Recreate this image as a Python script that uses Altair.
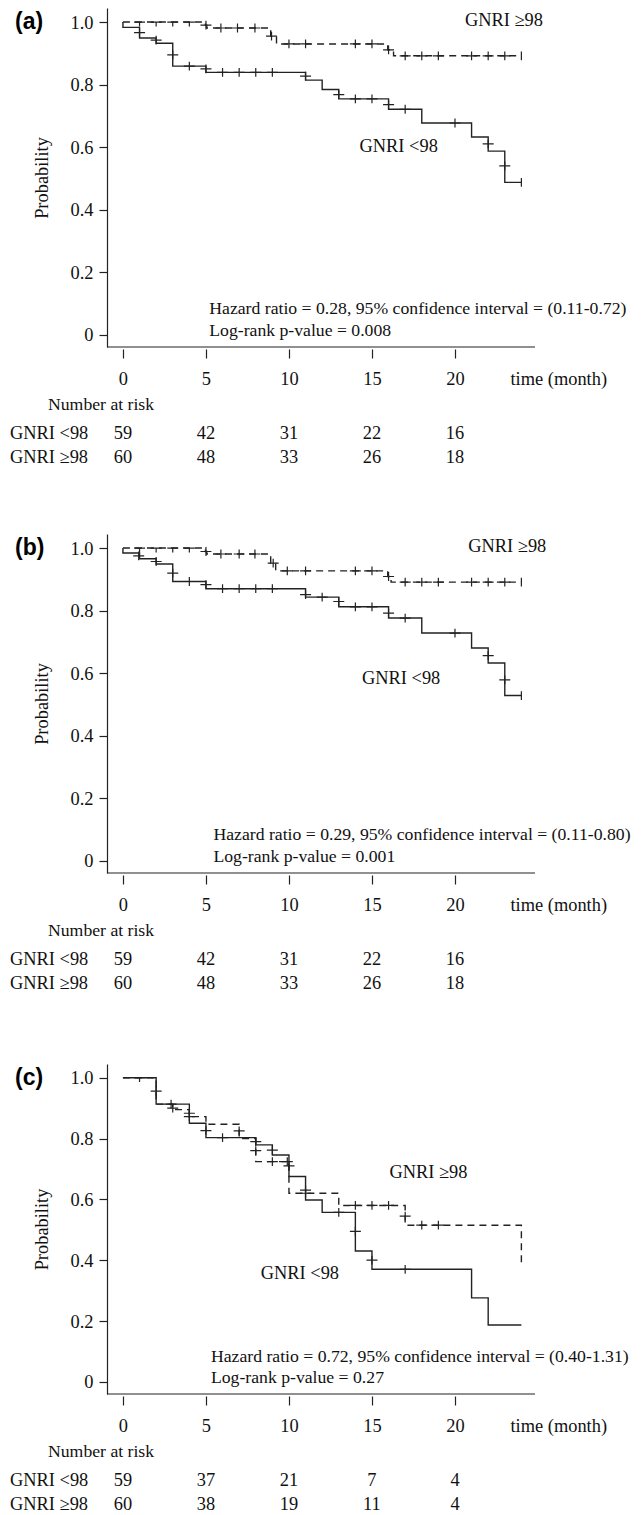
import altair as alt
import pandas as pd

SERIF = "Liberation Serif"
SANS = "Liberation Sans"
INK = "#111111"
LINE = "#222222"

W = 428
X_DOMAIN = [-0.96, 24.82]
Y_DOMAIN = [-0.04, 1.045]
X_TICKS = [0, 5, 10, 15, 20]
Y_TICKS = [0, 0.2, 0.4, 0.6, 0.8, 1.0]
GROUP_LOW = "GNRI <98"
GROUP_HIGH = "GNRI \u226598"

# ---------------- panel (a) ----------------
A_LOW_T = [0, 0, 1, 2, 3, 5, 11, 12, 13, 16, 18, 21, 22, 23, 24]
A_LOW_S = [1.0, 0.983, 0.949, 0.932, 0.859, 0.839, 0.814, 0.784, 0.754, 0.721, 0.677, 0.632, 0.587, 0.487, 0.487]
A_LOW_CT = [1, 2, 3, 4, 5, 6, 7, 8, 9, 11, 13, 14, 15, 16, 17, 20, 22, 23]
A_LOW_CS = [0.966, 0.942, 0.895, 0.859, 0.85, 0.839, 0.839, 0.839, 0.839, 0.827, 0.768, 0.754, 0.754, 0.736, 0.721, 0.677, 0.61, 0.54]
A_HIGH_T = [0, 4.97, 5.05, 8.9, 9.25, 15.95, 16.3, 24]
A_HIGH_S = [1.0, 0.99, 0.981, 0.955, 0.93, 0.911, 0.892, 0.892]
A_HIGH_CT = [1, 2, 3, 4, 5, 5.9, 6.9, 7.95, 8.95, 10, 11, 14, 15, 16, 17, 18, 19, 21, 22, 23]
A_HIGH_CS = [1.0, 1.0, 1.0, 1.0, 0.99, 0.981, 0.981, 0.981, 0.955, 0.93, 0.93, 0.93, 0.93, 0.911,
             0.892, 0.892, 0.892, 0.892, 0.892, 0.892]
A_RISK_LOW = [59, 42, 31, 22, 16]
A_RISK_HIGH = [60, 48, 33, 26, 18]
A_HR = "Hazard ratio = 0.28, 95% confidence interval = (0.11-0.72)"
A_P = "Log-rank p-value = 0.008"

# ---------------- panel (b) ----------------
B_LOW_T = [0, 0, 1, 2, 3, 5, 11, 13, 16, 18, 21, 22, 23, 24]
B_LOW_S = [1.0, 0.984, 0.966, 0.949, 0.893, 0.87, 0.843, 0.812, 0.776, 0.728, 0.68, 0.632, 0.528, 0.528]
B_LOW_CT = [0.95, 2, 3, 4, 5, 6, 7, 8, 9, 11, 12, 13, 14, 15, 16, 17, 20, 22, 23]
B_LOW_CS = [0.975, 0.957, 0.92, 0.893, 0.883, 0.87, 0.87, 0.87, 0.87, 0.851, 0.843, 0.829, 0.812, 0.812,
            0.792, 0.776, 0.728, 0.656, 0.578]
B_HIGH_T = [0, 4.97, 5.05, 8.9, 9.2, 15.95, 16.15, 24]
B_HIGH_S = [1.0, 0.989, 0.981, 0.952, 0.927, 0.909, 0.891, 0.891]
B_HIGH_CT = [1, 2, 3, 4, 5, 5.9, 7, 7.95, 9.05, 9.9, 11, 14, 15, 16, 17, 18, 19, 21, 22, 23]
B_HIGH_CS = [1.0, 1.0, 1.0, 1.0, 0.989, 0.981, 0.981, 0.981, 0.952, 0.927, 0.927, 0.927, 0.927, 0.909,
             0.891, 0.891, 0.891, 0.891, 0.891, 0.891]
B_RISK_LOW = [59, 42, 31, 22, 16]
B_RISK_HIGH = [60, 48, 33, 26, 18]
B_HR = "Hazard ratio = 0.29, 95% confidence interval = (0.11-0.80)"
B_P = "Log-rank p-value = 0.001"

# ---------------- panel (c) ----------------
C_LOW_T = [0, 2, 4, 5, 8, 9, 10, 11, 12, 14, 15, 21, 22, 24]
C_LOW_S = [1.0, 0.913, 0.85, 0.803, 0.779, 0.746, 0.675, 0.598, 0.557, 0.43, 0.37, 0.276, 0.187, 0.187]
C_LOW_CT = [1, 2, 2.9, 4, 5, 6, 8, 9, 10, 11, 13, 14, 15, 17]
C_LOW_CS = [1.0, 0.956, 0.913, 0.883, 0.826, 0.803, 0.79, 0.762, 0.71, 0.63, 0.557, 0.495, 0.40, 0.37]
C_HIGH_T = [0, 2, 3, 4, 5, 7, 8, 10, 13, 17, 24, 24]
C_HIGH_S = [1.0, 0.913, 0.895, 0.872, 0.847, 0.8, 0.724, 0.62, 0.58, 0.515, 0.515, 0.387]
C_HIGH_CT = [3, 4, 7, 8, 9, 9.9, 11, 14, 15, 16, 17, 18, 19]
C_HIGH_CS = [0.9, 0.872, 0.825, 0.76, 0.724, 0.724, 0.62, 0.58, 0.58, 0.58, 0.545, 0.515, 0.515]
C_RISK_LOW = [59, 37, 21, 7, 4]
C_RISK_HIGH = [60, 38, 19, 11, 4]
C_HR = "Hazard ratio = 0.72, 95% confidence interval = (0.40-1.31)"
C_P = "Log-rank p-value = 0.27"

PLUS = "M-1,0L1,0M0,-0.8L0,0.8"
TEE = "M-1,0L1,0M0,0L0,0.8"
BAR = "M0,-0.8L0,0.8"
FS = 18.4      # tick labels, group labels, risk numbers
FS_S = 17.7    # statistics lines, "Number at risk"


def km_panel(tag, H, low_t, low_s, low_ct, low_cs, high_t, high_s, high_ct, high_cs,
             end_marks, lbl_high, lbl_low, stat_t, hr, pv, risk_low, risk_high):
    xs = alt.Scale(domain=X_DOMAIN, nice=False, zero=False)
    ys = alt.Scale(domain=Y_DOMAIN, nice=False, zero=False)
    x_axis = alt.Axis(values=X_TICKS, domain=False, grid=False, tickSize=9, tickColor=LINE,
                      tickWidth=1.2, offset=2, labelFont=SERIF, labelFontSize=FS, labelColor=INK,
                      labelPadding=20, labelBaseline="middle", labelFlush=False,
                      title="time (month)", titleFont=SERIF, titleFontSize=FS,
                      titleFontWeight="normal", titleColor=INK, titleX=403, titleY=29,
                      titleAlign="left", titleBaseline="middle")
    y_axis = alt.Axis(values=Y_TICKS,
                      labelExpr="datum.value == 0 ? '0' : format(datum.value, '.1f')",
                      domain=True, domainColor=LINE, domainWidth=1.2, grid=False, tickSize=8,
                      tickColor=LINE, tickWidth=1.2, labelFont=SERIF, labelFontSize=FS,
                      labelColor=INK, labelPadding=6, labelFlush=False,
                      title="Probability", titleFont=SERIF, titleFontSize=FS,
                      titleFontWeight="normal", titleColor=INK, titlePadding=19)
    X = alt.X("t:Q", scale=xs, axis=x_axis)
    Y = alt.Y("s:Q", scale=ys, axis=y_axis)

    lines_df = pd.concat([
        pd.DataFrame({"t": low_t, "s": low_s, "g": "low", "i": range(len(low_t))}),
        pd.DataFrame({"t": high_t, "s": high_s, "g": "high", "i": range(len(high_t))}),
    ])
    cens_df = pd.DataFrame({"t": low_ct + high_ct, "s": low_cs + high_cs})
    cens_df["k"] = ["tee" if v >= 0.999 else "plus" for v in cens_df["s"]]

    lines = alt.Chart(lines_df).mark_line(interpolate="step-after", strokeWidth=1.4, color=LINE).encode(
        x=X, y=Y, detail="g:N", order="i:Q",
        strokeDash=alt.StrokeDash("g:N", scale=alt.Scale(domain=["low", "high"], range=[[1, 0], [7, 5]]),
                                  legend=None))
    cens = alt.Chart(cens_df).mark_point(size=121, filled=False, strokeWidth=1.2,
                                         color=LINE, opacity=1).encode(
        x=X, y=Y,
        shape=alt.Shape("k:N", scale=alt.Scale(domain=["plus", "tee"], range=[PLUS, TEE]), legend=None))
    layers = [lines, cens]
    if end_marks:
        end_df = pd.DataFrame({"t": [low_t[-1], high_t[-1]], "s": [low_s[-1], high_s[-1]]})
        layers.append(alt.Chart(end_df).mark_point(shape=BAR, size=121, filled=False, strokeWidth=1.2,
                                                   color=LINE, opacity=1).encode(x=X, y=Y))

    # bottom axis line
    layers.append(alt.Chart(pd.DataFrame({"a": [0]})).mark_rule(color=LINE, strokeWidth=1.2).encode(
        x=alt.value(0), x2=alt.value(W), y=alt.value(H)))

    grp_df = pd.DataFrame({"t": [lbl_high[0], lbl_low[0]], "s": [lbl_high[1], lbl_low[1]],
                           "label": [GROUP_HIGH, GROUP_LOW]})
    layers.append(alt.Chart(grp_df).mark_text(align="left", baseline="middle", font=SERIF,
                                              fontSize=FS, color=INK).encode(x=X, y=Y, text="label:N"))
    stat_df = pd.DataFrame({"t": [stat_t, stat_t], "s": [0.082, 0.012], "label": [hr, pv]})
    layers.append(alt.Chart(stat_df).mark_text(align="left", baseline="middle", font=SERIF,
                                               fontSize=FS_S, color=INK).encode(x=X, y=Y, text="label:N"))

    layers.append(alt.Chart(pd.DataFrame({"s": [1.0], "label": [tag]})).mark_text(
        align="left", baseline="middle", font=SANS, fontWeight="bold", fontSize=23, color="#000").encode(
        x=alt.value(-92), y=Y, text="label:N"))

    # number at risk table
    layers.append(alt.Chart(pd.DataFrame({"label": ["Number at risk"]})).mark_text(
        align="left", baseline="middle", font=SERIF, fontSize=FS_S, color=INK).encode(
        x=alt.value(-59), y=alt.value(H + 58), text="label:N"))
    for row_y, name, counts in [(H + 86, GROUP_LOW, risk_low), (H + 110, GROUP_HIGH, risk_high)]:
        layers.append(alt.Chart(pd.DataFrame({"label": [name]})).mark_text(
            align="left", baseline="middle", font=SERIF, fontSize=FS, color=INK).encode(
            x=alt.value(-97), y=alt.value(row_y), text="label:N"))
        layers.append(alt.Chart(pd.DataFrame({"t": X_TICKS, "n": counts})).mark_text(
            align="center", baseline="middle", font=SERIF, fontSize=FS, color=INK).encode(
            x=X, y=alt.value(row_y), text="n:N"))

    return alt.layer(*layers).properties(width=W, height=H)


pa = km_panel("(a)", 339, A_LOW_T, A_LOW_S, A_LOW_CT, A_LOW_CS, A_HIGH_T, A_HIGH_S, A_HIGH_CT, A_HIGH_CS,
              True, (20.6, 1.005), (14.25, 0.604), 5.2, A_HR, A_P, A_RISK_LOW, A_RISK_HIGH)
pb = km_panel("(b)", 339, B_LOW_T, B_LOW_S, B_LOW_CT, B_LOW_CS, B_HIGH_T, B_HIGH_S, B_HIGH_CT, B_HIGH_CS,
              True, (20.8, 1.007), (14.4, 0.584), 5.45, B_HR, B_P, B_RISK_LOW, B_RISK_HIGH)
pc = km_panel("(c)", 330, C_LOW_T, C_LOW_S, C_LOW_CT, C_LOW_CS, C_HIGH_T, C_HIGH_S, C_HIGH_CT, C_HIGH_CS,
              False, (16.05, 0.69), (8.3, 0.358), 5.3, C_HR, C_P, C_RISK_LOW, C_RISK_HIGH)

top = alt.vconcat(pa, pb, spacing=67)
chart = alt.vconcat(top, pc, spacing=71).properties(
    padding={"left": 2, "top": 0, "right": 0, "bottom": 0},
    background="white",
).configure_view(stroke=None)

chart.save("out.html", embed_options={"renderer": "svg", "actions": False})
